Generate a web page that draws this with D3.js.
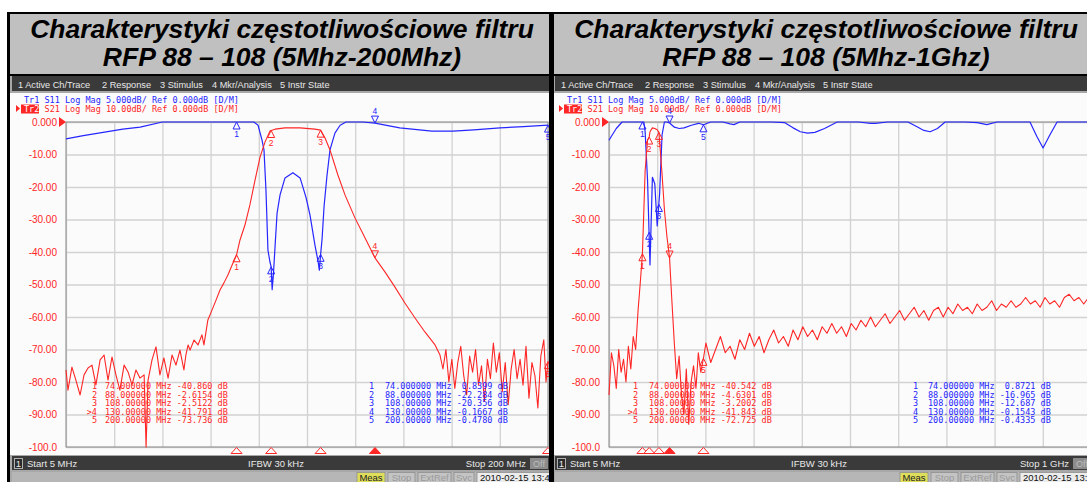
<!DOCTYPE html>
<html>
<head>
<meta charset="utf-8">
<script src="https://cdn.jsdelivr.net/npm/d3@7"></script>
<style>
body { margin: 0; background: #fff; }
svg { display: block; }
</style>
</head>
<body>
<div id="chart"></div>
<script>
var titleLines = [
  ["Charakterystyki częstotliwościowe filtru", "RFP 88 – 108 (5Mhz-200Mhz)"],
  ["Charakterystyki częstotliwościowe filtru", "RFP 88 – 108 (5Mhz-1Ghz)"]
];
var menuItems = ["1 Active Ch/Trace", "2 Response", "3 Stimulus", "4 Mkr/Analysis", "5 Instr State"];
var yTickVals = [0, -10, -20, -30, -40, -50, -60, -70, -80, -90, -100];
var yTickText = ["0.000", "-10.00", "-20.00", "-30.00", "-40.00", "-50.00", "-60.00", "-70.00", "-80.00", "-90.00", "-100.0"];

var markerNums = ["1", "2", "3", "4", "5"];
var markerFreq = [74, 88, 108, 130, 200];
var markerFreqText = ["74.000000", "88.000000", "108.00000", "130.00000", "200.00000"];
var s21MarkL = ["-40.860", "-2.6154", "-2.5122", "-41.791", "-73.736"];
var s11MarkL = ["0.8399", "-22.284", "-20.356", "-0.1667", "-0.4780"];
var s21MarkR = ["-40.542", "-4.6301", "-3.2002", "-41.843", "-72.725"];
var s11MarkR = ["0.8721", "-16.965", "-12.687", "-0.1543", "-0.4335"];

// S11 (blue, 5 dB/div), 5 - 200 MHz  [MHz, dB]
var s11Left = [[5,-2.6],[12,-2.1],[20,-1.6],[28,-1.1],[35,-0.8],[44,0],[60,0.5],[70,0.7],[74,0.84],[78,0.6],[81,0.1],
  [82.7,-0.5],[84.3,-2.8],[85.1,-4.3],[85.9,-10.5],[86.7,-19.7],[87.5,-21.5],[88,-22.3],[88.4,-25.8],[88.9,-23.5],
  [89.6,-19],[90.4,-14],[91.6,-11.2],[93.6,-8.6],[96.8,-7.8],[99.7,-8.6],[102.1,-11.6],[103.7,-14.3],[105.7,-18.9],
  [107,-21.5],[107.5,-22.8],[108,-20.4],[108.6,-18],[109.4,-13],[110.6,-8.2],[111.8,-4.3],[113.8,-1.7],[115.9,-0.5],
  [118.3,0.1],[125,0.1],[130,-0.17],[140,-0.9],[153,-1.4],[161.6,-1.4],[170,-1.2],[180.6,-0.9],[190,-0.7],[200,-0.48]];

// S21 (red, 10 dB/div), 5 - 200 MHz
var s21Left = [[5,-76.3],[5.8,-82.5],[7.4,-75.4],[9,-79.4],[10.7,-84],[12.3,-77.8],[13.9,-75.7],[15.5,-74.8],[17.1,-80.9],
  [18.8,-73.2],[20.4,-71.7],[22,-79.4],[23.6,-72.3],[25.2,-77.8],[26.8,-82.5],[28.5,-74.8],[30.1,-76.9],[31.7,-80.9],
  [33.3,-76.3],[34.9,-78.8],[36.6,-77.8],[37.4,-100],[38.2,-79.4],[39.8,-73.2],[41.4,-69.2],[43,-77.8],[44.6,-72.6],
  [46.3,-78.8],[47.9,-71.7],[49.5,-74.8],[51.1,-70.2],[52.7,-76.3],[53.5,-71.7],[54.4,-68.6],[55.2,-70.2],[56.8,-67.1],
  [58.4,-68.6],[60,-65.5],[60.8,-68.6],[62.4,-60.9],[64.1,-57.8],[65.7,-54.8],[67.3,-51.7],[68.9,-49.5],[70.5,-47.1],
  [72.2,-44],[74,-40.9],[75.4,-36.3],[77.4,-31.7],[79.4,-25.5],[81.5,-17.8],[83.5,-10.8],[85.5,-6.2],[87.5,-2.8],
  [88,-2.6],[89.6,-2.2],[93.6,-1.8],[99.7,-1.8],[105.7,-2.2],[108,-2.5],[109.8,-4.9],[111.8,-8.6],[115,-16.3],
  [117.9,-22.5],[121.9,-29.5],[126,-35.7],[130,-41.8],[134.1,-46.2],[138.1,-50.8],[142.1,-55.7],[146.2,-60.3],
  [150.2,-64.6],[154.3,-68.6],[156.3,-71.7],[157.5,-76],[158.7,-70],[159.9,-80],[161.1,-73],[162.3,-82],[163.5,-74],
  [164.7,-69],[165.9,-78],[167.1,-84],[168.3,-72],[169.5,-77],[170.7,-70],[171.9,-81],[173.1,-75],[174.3,-86],
  [175.5,-73],[176.7,-79],[177.9,-68],[179.1,-77],[180.3,-71],[181.5,-83],[182.7,-74],[183.9,-87],[185.1,-76],
  [186.3,-70],[187.5,-79],[188.7,-73],[189.9,-81],[191.1,-69],[192.3,-85],[193.5,-74],[194.7,-78],[195.9,-88],
  [197.1,-72],[198.3,-67],[199.2,-80],[200,-73.7]];

// S11 (blue), 5 MHz - 1 GHz
var s11Right = [[5,-2.8],[10,-2.2],[20,-1],[32,0],[50,0.3],[70,0.6],[74,0.87],[77,0.3],[79.6,-1.5],[84.6,-9],
  [89.6,-22],[94.6,-8.5],[99.5,-9.5],[104.5,-16],[109.5,-11],[114.5,-2],[119.4,0],[124.4,0.2],[130,-0.15],[140,-0.8],
  [150,-1],[160,-0.9],[175,-0.5],[190,-0.2],[200,-0.43],[215,0.2],[240,0.1],[255,-0.3],[263,-0.4],[275,0.1],[300,0.3],
  [340,0.2],[368,-0.1],[385,-0.9],[400,-1.5],[415,-1.7],[430,-1.6],[450,-1],[476,0.1],[520,0.2],[545,-0.2],[555,-0.2],
  [580,0.3],[622,0.1],[640,-0.7],[655,-1.3],[668,-1.5],[683,-1],[699,0.1],[740,0.3],[765,-0.1],[785,-0.4],[806,0],
  [850,0.3],[874,0.1],[888,-2.2],[901,-4],[915,-2],[930,0.1],[960,0.4],[990,0.2],[1000,0.1]];

// S21 (red), 5 MHz - 1 GHz
var s21Right = [[5,-84],[10,-71],[15,-75],[20,-82],[25,-70],[30,-77],[35,-73],[40,-80],[45,-69],[50,-76],[55,-66],
  [60,-70],[65,-58],[69.8,-49],[74,-40.5],[79.6,-15],[84.6,-5.5],[88,-4.6],[89.6,-3],[94.6,-1.8],[99.5,-2],[104.5,-2.4],
  [108,-3.2],[109.5,-6],[114.5,-16],[119.4,-27],[124.4,-35],[130,-41.8],[134.8,-55],[139.8,-68],[144.7,-79],[149.7,-72],
  [154.7,-84],[159.6,-90],[164.6,-76],[169.6,-93],[174.5,-80],[179.5,-75],[184.5,-82],[189.4,-71],[194.4,-77],[200,-72.7],
  [205,-68],[215,-74],[225,-70],[235,-66],[245,-71],[255,-69],[265,-73],[275,-67],[285,-70],[295,-65],[305,-69],
  [315,-66],[325,-71],[335,-67],[345,-64],[355,-68],[365,-66],[375,-69],[385,-64],[395,-67],[405,-63],[415,-66],
  [425,-64],[435,-67],[445,-63],[455,-65],[465,-62],[475,-65],[485,-63],[495,-66],[505,-62],[515,-64],[525,-61],
  [535,-63],[545,-60],[555,-63],[565,-61],[575,-59],[585,-62],[595,-60],[605,-58],[615,-61],[625,-59],[635,-57],
  [645,-60],[655,-58],[665,-61],[675,-58],[685,-57],[695,-60],[705,-57],[715,-59],[725,-56],[735,-58],[745,-57],
  [755,-59],[765,-56],[775,-58],[785,-57],[795,-55],[805,-58],[815,-56],[825,-57],[835,-55],[845,-57],[855,-56],
  [865,-54],[875,-56],[885,-55],[895,-57],[905,-54],[915,-56],[925,-55],[935,-57],[945,-54],[955,-53],[965,-55],
  [975,-54],[985,-56],[995,-54],[1000,-53.5]];

var blue = "#2626ff";
var red = "#ff2626";
var mono = "DejaVu Sans Mono";
var ui = "Liberation Sans";

var svg = d3.select("#chart")
  .append("svg")
  .attr("width", 1087)
  .attr("height", 482);

// outer black frame + title cells
svg.append("rect")
  .attr("x", 7).attr("y", 12)
  .attr("width", 1080).attr("height", 470)
  .attr("fill", "#000");

svg.append("rect")
  .attr("x", 10).attr("y", 14)
  .attr("width", 539).attr("height", 60)
  .attr("fill", "#c0c0c0");

svg.append("rect")
  .attr("x", 554).attr("y", 14)
  .attr("width", 533).attr("height", 60)
  .attr("fill", "#c0c0c0");

[282, 826].forEach(function(cx, i) {
    titleLines[i].forEach(function(t, j) {
        svg.append("text")
          .attr("x", cx)
          .attr("y", 38 + j * 28)
          .attr("text-anchor", "middle")
          .attr("font-family", "Liberation Sans")
          .attr("font-weight", "bold")
          .attr("font-style", "italic")
          .style("font-size", "26.5px")
          .attr("fill", "#000")
          .text(t);
    });
});

function drawPanel(ox, stop, s11, s21, s11Mark, s21Mark, stopText) {
    var g = svg.append("g")
      .attr("transform", "translate(" + ox + ",0)");

    // bars and background
    g.append("rect").attr("x", 10).attr("y", 76).attr("width", 540).attr("height", 17).attr("fill", "#a8a8a8");
    g.append("rect").attr("x", 12).attr("y", 76).attr("width", 538).attr("height", 15).attr("fill", "#3a3a3a");
    g.append("rect").attr("x", 10).attr("y", 93).attr("width", 540).attr("height", 362).attr("fill", "#fbfbfb");
    g.append("rect").attr("x", 10).attr("y", 455).attr("width", 540).attr("height", 27).attr("fill", "#a8a8a8");
    g.append("rect").attr("x", 12).attr("y", 456).attr("width", 538).attr("height", 14).attr("fill", "#3a3a3a");
    g.append("rect").attr("x", 12).attr("y", 472).attr("width", 538).attr("height", 10).attr("fill", "#b6b6b6");

    var menuX = [18, 102, 160, 212, 280];
    menuItems.forEach(function(m, i) {
        g.append("text")
          .attr("x", menuX[i]).attr("y", 87.5)
          .attr("font-family", ui)
          .style("font-size", "9.2px")
          .attr("fill", "#e8e8e8")
          .text(m);
    });

    var x = d3.scaleLinear().domain([5, stop]).range([66, 548]);
    var yA = d3.scaleLinear().domain([-50, 0]).range([447, 122]).clamp(true);
    var yB = d3.scaleLinear().domain([-100, 0]).range([447, 122]).clamp(true);

    // grid through the axes
    var xGrid = d3.range(11).map(function(i) { return 5 + i * (stop - 5) / 10; });
    var gx = g.append("g")
      .attr("transform", "translate(0,447)")
      .call(d3.axisBottom(x).tickValues(xGrid).tickSize(-325).tickFormat(""));
    gx.select(".domain").remove();
    gx.selectAll("line").attr("stroke", "#d2d2d2").attr("stroke-width", 1.3);

    var gy = g.append("g")
      .attr("transform", "translate(66,0)")
      .call(d3.axisLeft(yB).tickValues(yTickVals).tickSize(-482).tickPadding(9)
        .tickFormat(function(d, i) { return yTickText[i]; }));
    gy.select(".domain").remove();
    gy.selectAll("line").attr("stroke", "#d2d2d2").attr("stroke-width", 1.3);
    gy.selectAll("text")
      .attr("fill", red)
      .attr("font-family", ui)
      .style("font-size", "10px");

    g.append("rect")
      .attr("x", 66).attr("y", 122)
      .attr("width", 482).attr("height", 325)
      .attr("fill", "none")
      .attr("stroke", "#8a8a8a")
      .attr("stroke-width", 1);

    // reference position pointer
    g.append("path")
      .attr("d", "M 59 117 l 7 5 -7 5 z")
      .attr("fill", red);

    // header lines
    g.append("text")
      .attr("x", 24).attr("y", 103)
      .attr("font-family", mono).style("font-size", "8.5px").style("white-space", "pre")
      .attr("fill", blue)
      .text("Tr1 S11 Log Mag 5.000dB/ Ref 0.000dB [D/M]");
    g.append("path").attr("d", "M 16 105 l 4 3.5 -4 3.5 z").attr("fill", red);
    g.append("rect").attr("x", 21).attr("y", 104.5).attr("width", 18).attr("height", 9).attr("fill", red);
    g.append("text")
      .attr("x", 24).attr("y", 112)
      .attr("font-family", mono).style("font-size", "8.5px")
      .attr("fill", "#fff")
      .text("Tr2");
    g.append("text")
      .attr("x", 39.4).attr("y", 112)
      .attr("font-family", mono).style("font-size", "8.5px").style("white-space", "pre")
      .attr("fill", red)
      .text(" S21 Log Mag 10.00dB/ Ref 0.000dB [D/M]");

    // traces
    var lineA = d3.line().x(function(d) { return x(d[0]); }).y(function(d) { return yA(d[1]); });
    var lineB = d3.line().x(function(d) { return x(d[0]); }).y(function(d) { return yB(d[1]); });

    g.append("path")
      .attr("d", lineA(s11))
      .attr("fill", "none")
      .attr("stroke", blue)
      .attr("stroke-width", 1.2)
      .attr("stroke-linejoin", "round");

    g.append("path")
      .attr("d", lineB(s21))
      .attr("fill", "none")
      .attr("stroke", red)
      .attr("stroke-width", 1.1)
      .attr("stroke-linejoin", "round");

    // markers on the traces
    function marker(px, py, num, active, col) {
        if (active) {
            g.append("path")
              .attr("d", "M " + px + " " + py + " l -3.5 -7 7 0 z")
              .attr("fill", "none").attr("stroke", col).attr("stroke-width", 1);
            g.append("text")
              .attr("x", px).attr("y", py - 9)
              .attr("text-anchor", "middle")
              .attr("font-family", ui).style("font-size", "8.5px")
              .attr("fill", col).text(num);
        } else {
            g.append("path")
              .attr("d", "M " + px + " " + py + " l -3.5 7 7 0 z")
              .attr("fill", "none").attr("stroke", col).attr("stroke-width", 1);
            g.append("text")
              .attr("x", px).attr("y", py + 15)
              .attr("text-anchor", "middle")
              .attr("font-family", ui).style("font-size", "8.5px")
              .attr("fill", col).text(num);
        }
    }
    markerFreq.forEach(function(f, i) {
        marker(x(f), yA(parseFloat(s11Mark[i])), markerNums[i], i === 3, blue);
        marker(x(f), yB(parseFloat(s21Mark[i])), markerNums[i], i === 3, red);
        // indicators under the grid
        g.append("path")
          .attr("d", "M " + x(f) + " 447.5 l -5.5 6 11 0 z")
          .attr("fill", i === 3 ? red : "#fbfbfb")
          .attr("stroke", red).attr("stroke-width", 1);
    });

    // marker tables
    var rowY = [389, 397.6, 406.2, 414.8, 423.4];
    var tx = ox === 0 ? { rn: 97, rs: 105, bn: 374, bs: 385 } : { rn: 95, rs: 106, bn: 375, bs: 385 };
    markerFreq.forEach(function(f, i) {
        var rv = ("       " + s21Mark[i]).slice(-7);
        var bv = ("       " + s11Mark[i]).slice(-7);
        g.append("text")
          .attr("x", tx.rn).attr("y", rowY[i]).attr("text-anchor", "end")
          .attr("font-family", mono).style("font-size", "8.5px").style("white-space", "pre")
          .attr("fill", red).text((i === 3 ? ">" : "") + markerNums[i]);
        g.append("text")
          .attr("x", tx.rs).attr("y", rowY[i])
          .attr("font-family", mono).style("font-size", "8.5px").style("white-space", "pre")
          .attr("fill", red).text(markerFreqText[i] + " MHz " + rv + " dB");
        g.append("text")
          .attr("x", tx.bn).attr("y", rowY[i]).attr("text-anchor", "end")
          .attr("font-family", mono).style("font-size", "8.5px")
          .attr("fill", blue).text(markerNums[i]);
        g.append("text")
          .attr("x", tx.bs).attr("y", rowY[i])
          .attr("font-family", mono).style("font-size", "8.5px").style("white-space", "pre")
          .attr("fill", blue).text(markerFreqText[i] + " MHz " + bv + " dB");
    });

    // bottom stimulus bar
    g.append("rect").attr("x", 14.5).attr("y", 458.5).attr("width", 8).attr("height", 10)
      .attr("fill", "#2a2a2a").attr("stroke", "#b0b0b0");
    g.append("text").attr("x", 18.5).attr("y", 467).attr("text-anchor", "middle")
      .attr("font-family", ui).style("font-size", "9.5px").attr("fill", "#e8e8e8").text("1");
    g.append("text").attr("x", 27).attr("y", 467)
      .attr("font-family", ui).style("font-size", "9.5px").attr("fill", "#e8e8e8").text("Start 5 MHz");
    g.append("text").attr("x", 248).attr("y", 467)
      .attr("font-family", ui).style("font-size", "9.5px").attr("fill", "#e8e8e8").text("IFBW 30 kHz");
    g.append("text").attr("x", 526).attr("y", 467).attr("text-anchor", "end")
      .attr("font-family", ui).style("font-size", "9.5px").attr("fill", "#e8e8e8").text(stopText);
    g.append("rect").attr("x", 530).attr("y", 458).attr("width", 18).attr("height", 11).attr("fill", "#8c8c8c");
    g.append("text").attr("x", 539).attr("y", 467).attr("text-anchor", "middle")
      .attr("font-family", ui).style("font-size", "9px").attr("fill", "#bdbdbd").text("Off");

    // status bar
    var stat = [["Meas", 357, 28, "#dede5a", "#222"], ["Stop", 388, 27, "#c4c4c4", "#9a9a9a"],
                ["ExtRef", 418, 33, "#c4c4c4", "#9a9a9a"], ["Svc", 454, 20, "#c4c4c4", "#9a9a9a"],
                ["2010-02-15 13:47", 477, 75, "#ececec", "#111"]];
    stat.forEach(function(s) {
        g.append("rect").attr("x", s[1]).attr("y", 472.5).attr("width", s[2]).attr("height", 10)
          .attr("fill", s[3]).attr("stroke", "#8e8e8e").attr("stroke-width", 0.8);
        g.append("text").attr("x", s[1] + (s[0].length > 6 ? 3 : s[2] / 2)).attr("y", 481)
          .attr("text-anchor", s[0].length > 6 ? "start" : "middle")
          .attr("font-family", ui).style("font-size", "9.5px").attr("fill", s[4]).text(s[0]);
    });
}

drawPanel(0, 200, s11Left, s21Left, s11MarkL, s21MarkL, "Stop 200 MHz");
drawPanel(543, 1000, s11Right, s21Right, s11MarkR, s21MarkR, "Stop 1 GHz");

// black separator between the two screens
svg.append("rect")
  .attr("x", 549).attr("y", 74)
  .attr("width", 5).attr("height", 408)
  .attr("fill", "#000");
</script>
</body>
</html>
